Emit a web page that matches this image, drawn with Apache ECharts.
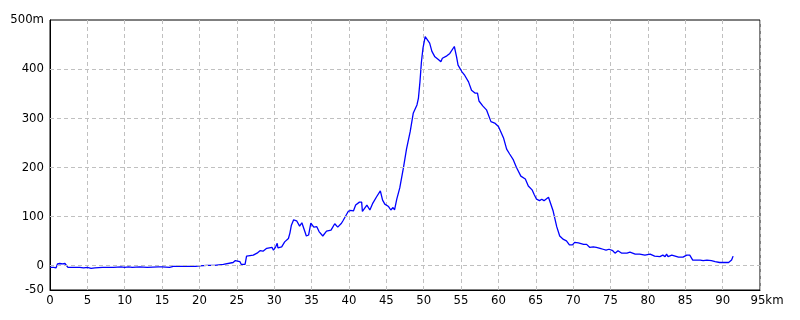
<!DOCTYPE html>
<html>
<head>
<meta charset="utf-8">
<script src="https://cdn.jsdelivr.net/npm/echarts@6/dist/echarts.min.js"></script>
<style>
html,body{margin:0;padding:0;background:#fff;}
#chart{width:800px;height:320px;}
</style>
</head>
<body>
<div id="chart"></div>
<script>
// distance (km)
const distKm = [0,0.5,0.8,1.0,1.3,1.7,2.0,2.2,2.4,4.0,4.5,5.0,5.5,6.0,7.0,8.5,9.5,10.0,10.5,11.0,12.0,13.0,14.5,15.0,16.0,16.5,18.0,19.5,20.0,21.0,22.0,23.2,24.5,24.8,25.4,25.6,26.1,26.3,27.2,27.7,28.1,28.5,29.0,29.7,29.9,30.2,30.4,30.5,31.0,31.4,31.9,32.1,32.3,32.6,33.0,33.2,33.4,33.7,33.9,34.1,34.3,34.6,34.9,35.1,35.3,35.7,36.0,36.5,37.0,37.6,38.1,38.5,39.0,39.2,39.9,40.2,40.6,40.9,41.4,41.7,41.8,42.4,42.8,43.2,43.7,44.2,44.5,44.8,45.3,45.6,45.9,46.1,46.4,46.8,47.3,47.7,48.2,48.6,49.1,49.3,49.5,49.7,49.9,50.2,50.4,50.8,51.1,51.5,52.0,52.3,52.5,53.1,53.5,54.1,54.4,54.6,55.1,55.5,56.0,56.4,56.9,57.2,57.4,57.9,58.4,59.0,59.5,60.0,60.3,60.7,61.1,61.5,62.0,62.4,63.0,63.6,64.0,64.5,64.8,65.1,65.5,65.8,66.1,66.7,66.9,67.3,67.8,68.2,68.7,69.1,69.5,69.9,70.2,70.7,70.9,71.4,71.8,72.2,72.7,73.1,73.6,74.0,74.4,74.8,75.3,75.6,76.0,76.5,77.2,77.6,78.3,78.9,79.6,80.3,80.9,81.6,82.0,82.3,82.5,82.7,83.2,83.4,84.1,84.7,84.8,85.2,85.6,86.0,87.0,87.4,87.9,88.5,88.7,89.0,89.6,90.2,90.5,90.8,91.0,91.2,91.4];
// elevation (m)
const elevM = [-4,-4,-5,3,4,3,4,3,-4,-4,-5,-4,-6,-5,-4,-4,-3,-4,-3,-4,-3,-4,-3,-3,-4,-2,-2,-2,-1,0,0,2,6,10,8,2,2,19,21,25,30,29,35,37,31,38,45,36,38,48,55,66,82,93,91,89,80,87,87,69,60,62,86,89,78,79,69,60,70,72,85,78,86,91,110,112,111,123,129,129,110,123,113,127,140,152,133,125,120,113,118,113,135,158,200,237,273,310,327,341,374,415,442,466,463,453,436,425,419,415,422,427,432,446,425,408,395,387,374,357,351,351,335,325,317,293,290,283,273,259,237,227,215,200,182,176,162,154,144,135,132,135,132,139,137,112,79,60,53,50,42,42,47,46,42,43,43,37,38,37,35,33,31,33,30,25,30,25,25,27,23,23,21,23,19,18,21,18,23,18,21,17,17,17,13,21,21,11,11,10,11,10,13,8,6,6,6,6,4,11,19];
// axis ticks
const yTickLabels = [-50,0,100,200,300,400,500];
const yGridValues = [0,100,200,300,400];
const xMax = 95;

const font = "'Liberation Sans Narrow','DejaVu Sans Condensed','Liberation Sans',sans-serif";
const chart = echarts.init(document.getElementById('chart'), null, {renderer:'canvas'});
const pts = distKm.map((d,i)=>[d, elevM[i]]);
chart.setOption({
  animation:false,
  backgroundColor:'#fff',
  grid:{left:50, top:20, width:710, height:270, show:true, borderColor:'#000', borderWidth:1, backgroundColor:'transparent'},
  xAxis:{
    type:'value', min:0, max:xMax, interval:5,
    axisLine:{show:true, onZero:false, lineStyle:{color:'#000', width:1}},
    axisTick:{show:false},
    axisLabel:{color:'#000', fontFamily:font, fontSize:13, margin:4,
      formatter:v=> v===xMax ? '{p|}' + v + 'km' : String(v),
      rich:{p:{width:14}}},
    splitLine:{show:true, lineStyle:{color:'#c0c0c0', type:[4,3], width:1}}
  },
  yAxis:{
    type:'value', min:-50, max:500, interval:50,
    axisLine:{show:true, onZero:false, lineStyle:{color:'#000', width:1}},
    axisTick:{show:false},
    axisLabel:{color:'#000', fontFamily:font, fontSize:13, margin:6,
      formatter:v=> yTickLabels.indexOf(v)<0 ? '' : (v===500 ? '500m' : String(v))},
    splitLine:{show:false}
  },
  series:[
    {type:'line', data:[], z:1, silent:true,
      markLine:{silent:true, symbol:'none', animation:false, label:{show:false},
        lineStyle:{color:'#c0c0c0', type:[4,3], width:1},
        data: yGridValues.map(v=>({yAxis:v}))}},
    {type:'line', data:pts, z:3, showSymbol:false, symbol:'none',
      lineStyle:{color:'#0000ff', width:1.3}}
  ]
});
</script>
</body>
</html>
